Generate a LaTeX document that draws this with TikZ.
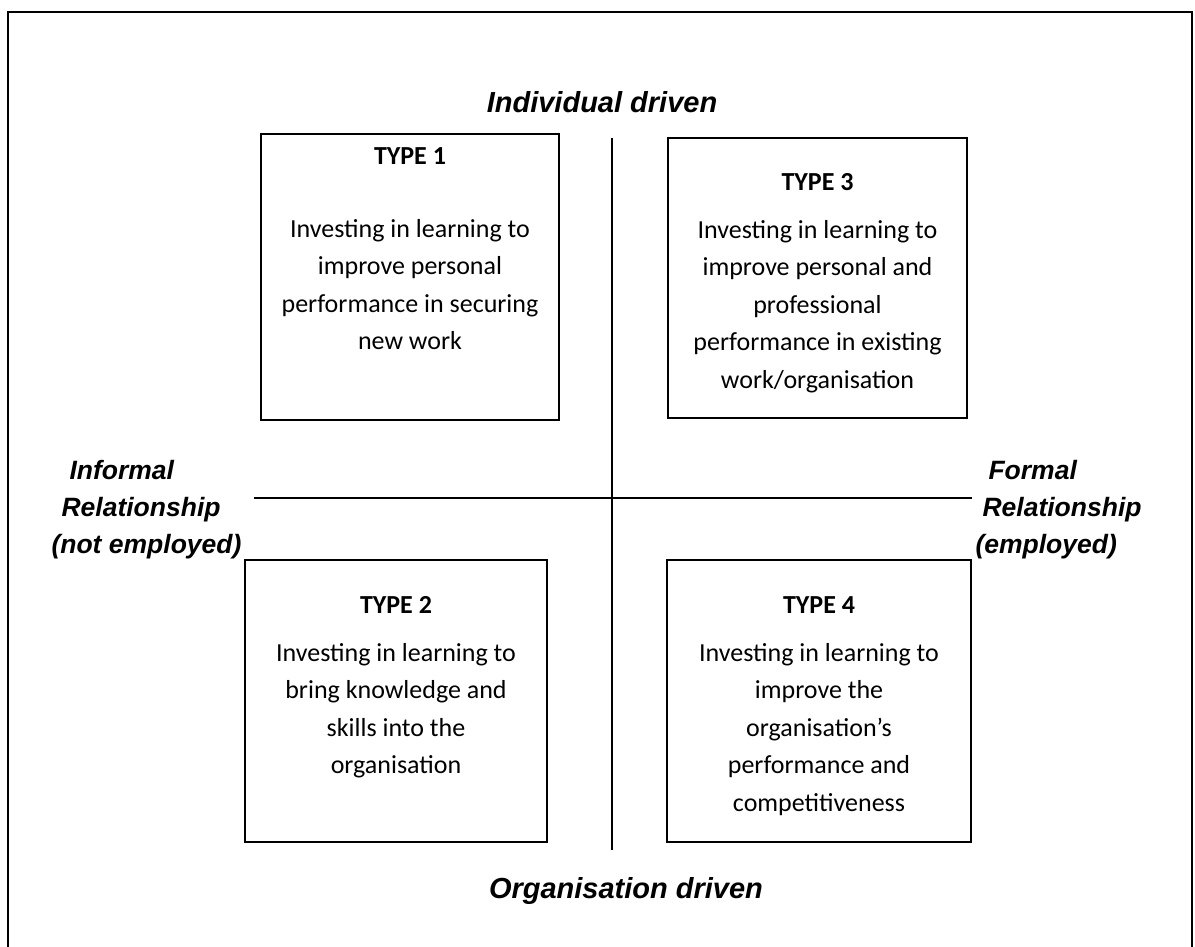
\documentclass[tikz,border=0pt]{standalone}
\usepackage{fontspec}
\setmainfont{Carlito}
\newfontfamily\axisfont{Liberation Sans}

\begin{document}
\begin{tikzpicture}[x=1pt, y=-1pt,
    quadbox/.style={draw=black, line width=1.5pt, inner sep=0pt},
    typehead/.style={font=\fontsize{26}{30}\selectfont\bfseries, anchor=base},
    bodytext/.style={font=\fontsize{26}{37.5}\selectfont, align=center, anchor=base},
    axislabel/.style={font=\axisfont\fontsize{29}{35}\selectfont\bfseries\itshape},
    sidelabel/.style={font=\axisfont\fontsize{26.5}{37}\selectfont\bfseries\itshape, align=left, anchor=base west},
    axisline/.style={draw=black, line width=1.3pt}]

    % page size
    \useasboundingbox (0,0) rectangle (1195,947);

    % outer frame, open at the bottom
    \draw[line width=2pt] (8,947) -- (8,12) -- (1192,12) -- (1192,947);

    % the two axes
    \coordinate (vtop) at (612,138);
    \coordinate (vbot) at (612,850);
    \coordinate (hleft) at (254,498);
    \coordinate (hright) at (972,498);
    \draw[axisline] (vtop) -- (vbot);
    \draw[axisline] (hleft) -- (hright);

    % axis labels (multi-line nodes sit on the baseline of their last line)
    \node[axislabel] (indiv) at (602,102) {Individual driven};
    \node[axislabel] (orgdrv) at (626,891) {Organisation driven};
    \node[sidelabel] (informal) at (48,553)
        {\hspace{18pt}Informal\\\hspace{10pt}Relationship\\(not employed)};
    \node[sidelabel] (formal) at (972,553)
        {\hspace{13pt}Formal\\\hspace{7pt}Relationship\\(employed)};

    % the four quadrants
    \node[quadbox, minimum width=298pt, minimum height=286pt] (type1) at (410,277) {};
    \node[quadbox, minimum width=299pt, minimum height=280pt] (type3) at (817.5,278) {};
    \node[quadbox, minimum width=302pt, minimum height=282pt] (type2) at (396,701) {};
    \node[quadbox, minimum width=304pt, minimum height=282pt] (type4) at (819,701) {};

    % texts in the quadrants
    \node[typehead] (head1) at (410,165) {TYPE 1};
    \node[bodytext] (body1) at (410,349.5)
        {Investing in learning to\\improve personal\\performance in securing\\new work};

    \node[typehead] (head3) at (817.5,191) {TYPE 3};
    \node[bodytext] (body3) at (817.5,388)
        {Investing in learning to\\improve personal and\\professional\\performance in existing\\work/organisation};

    \node[typehead] (head2) at (396,613) {TYPE 2};
    \node[bodytext] (body2) at (396,773.5)
        {Investing in learning to\\bring knowledge and\\skills into the\\organisation};

    \node[typehead] (head4) at (819,613) {TYPE 4};
    \node[bodytext] (body4) at (819,811)
        {Investing in learning to\\improve the\\organisation’s\\performance and\\competitiveness};

\end{tikzpicture}
\end{document}
